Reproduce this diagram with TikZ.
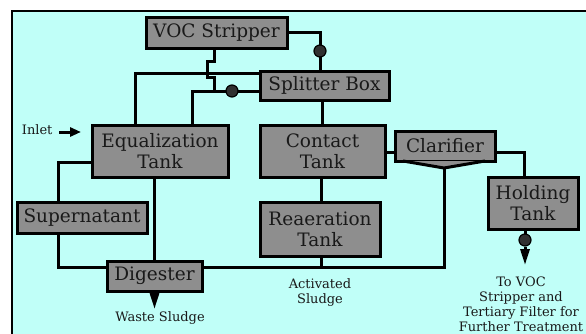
\documentclass[tikz,border=0pt]{standalone}
\usepackage{fontspec}
\setmainfont{DejaVu Serif}
\usetikzlibrary{arrows.meta,calc}
\definecolor{bgc}{HTML}{C0FFF8}
\definecolor{boxc}{HTML}{8E8E8E}
\definecolor{dotc}{HTML}{303030}
\begin{document}
\begin{tikzpicture}[x=1pt,y=-1pt,
  box/.style={draw=black,fill=boxc,line width=3pt,inner sep=0pt,font=\fontsize{18.5}{21}\selectfont,align=center,text=black!90},
  pipe/.style={line width=3pt,line join=miter},
  valve/.style={circle,fill=dotc,draw=black,line width=1.2pt,minimum size=12pt,inner sep=0pt},
  lbl/.style={font=\fontsize{13}{15}\selectfont,align=center,text=black!90},
  tip/.style={-{Triangle[length=16pt,width=9pt]}}]
\useasboundingbox (0,0) rectangle (586,333);
\begin{scope}
\clip (0,0) rectangle (586,333);
\draw[fill=bgc,line width=2pt] (11.5,10.5) rectangle (600,350);
\end{scope}
% nodes
\node[box,minimum width=141pt,minimum height=31pt] (voc) at (216.5,32.5) {VOC Stripper};
\node[box,minimum width=129pt,minimum height=29pt] (split) at (324.5,85.5) {Splitter Box};
\node[box,minimum width=136pt,minimum height=52pt] (eq) at (160,151) {Equalization\\Tank};
\node[box,minimum width=125pt,minimum height=52pt] (contact) at (322.5,151) {Contact\\Tank};
\node[box,minimum width=100pt,minimum height=30pt] (clar) at (445,146) {Clarifier};
\node[box,minimum width=90pt,minimum height=52pt] (hold) at (533,203) {Holding\\Tank};
\node[box,minimum width=130pt,minimum height=31pt] (super) at (82,217.5) {Supernatant};
\node[box,minimum width=120pt,minimum height=54pt] (reaer) at (320,229) {Reaeration\\Tank};
\node[box,minimum width=95pt,minimum height=30pt] (dig) at (154.5,276) {Digester};
% clarifier cone
\coordinate (apex) at (444,168);
\draw[pipe,fill=boxc] (403,161) -- (apex) -- (485,161);
% coordinates
\coordinate (c1) at (320,32.5);
\coordinate (h1) at (214,61);
\coordinate (h2) at (207,61);
\coordinate (h3) at (207,77);
\coordinate (h4) at (214,77);
\coordinate (j1) at (214,91);
\coordinate (s1) at (260,73);
\coordinate (s2) at (135,73);
\coordinate (s3) at (260,91);
\coordinate (s4) at (192,91);
\coordinate (d1) at (444,267);
\coordinate (d2) at (321,267);
\coordinate (e1) at (58,162);
\coordinate (e2) at (58,267);
\coordinate (w1) at (154.5,309);
\coordinate (t1) at (525,265);
% pipes
\draw[pipe] (voc.east) -- (c1) -- (c1 |- split.north);
\node[valve] (v1) at (320,51) {};
\draw[pipe] (voc.south -| h1) -- (h1) -- (h2) -- (h3) -- (h4) -- (j1);
\draw[pipe] (s1) -- (s2) -- (s2 |- eq.north);
\draw[pipe] (s3) -- (s4) -- (s4 |- eq.north);
\node[valve] (v2) at (232,91) {};
\draw[pipe] (split.south -| 322,0) -- (contact.north -| 322,0);
\draw[pipe] (contact.east |- 0,152) -- (clar.west |- 0,152);
\draw[pipe] (clar.east |- 0,152) -| (hold.north -| 524,0);
\draw[pipe] (apex) -- (d1) -- (dig.east |- d1);
\draw[pipe] (reaer.south -| d2) -- (d2);
\draw[pipe] (contact.south -| 321,0) -- (reaer.north -| 321,0);
\draw[pipe] (eq.west |- e1) -- (e1) -- (e1 |- super.north);
\draw[pipe] (super.south -| e2) -- (e2) -- (dig.west |- e2);
\draw[pipe] (eq.south -| dig.north) -- (dig.north);
\draw[pipe,tip] (dig.south) -- (w1);
\draw[pipe] (hold.south -| t1) -- (525,236);
\node[valve] (v3) at (525,240) {};
\draw[pipe,tip] (v3.south) -- (t1);
% labels
\node[lbl,anchor=east] (inlet) at (56,130) {Inlet};
\coordinate (a1) at (81,132);
\draw[line width=3pt,-{Triangle[length=11pt,width=9pt]}] (inlet.east |- a1) ++(3,0) -- (a1);
\node[lbl] (waste) at (160,318) {Waste Sludge};
\node[lbl] (act) at (320,292) {Activated\\Sludge};
\node[lbl] (tovoc) at (521,304) {To VOC\\Stripper and\\Tertiary Filter for\\Further Treatment};
\end{tikzpicture}
\end{document}
